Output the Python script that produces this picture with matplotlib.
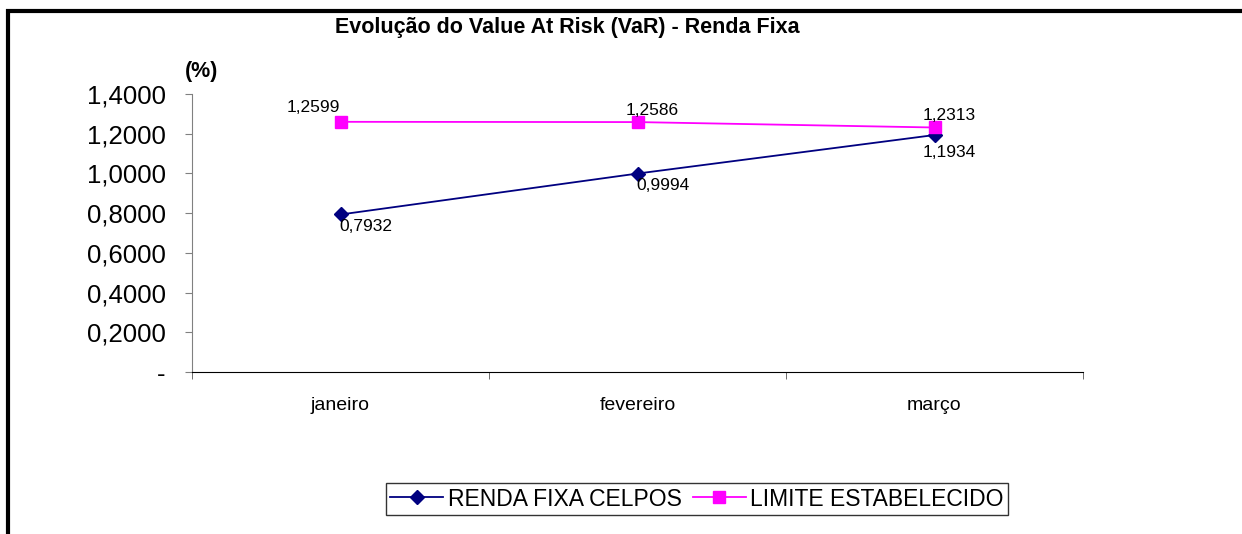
import matplotlib.pyplot as plt
from matplotlib.lines import Line2D

plt.rcParams['font.family'] = ['Liberation Sans', 'DejaVu Sans']

# data
meses = ['janeiro', 'fevereiro', 'março']
renda_fixa = [0.7932, 0.9994, 1.1934]
limite = [1.2599, 1.2586, 1.2313]
nomes = ['RENDA FIXA CELPOS', 'LIMITE ESTABELECIDO']
yticks = [0, 0.2, 0.4, 0.6, 0.8, 1.0, 1.2, 1.4]

# label offsets (pixels) for the value labels
off_rf = [(-1, -12), (-1, -12), (-12, -17)]
off_lim = [(-1, 14), (-12, 12), (-12, 12)]
ha_rf = ['left', 'left', 'left']
ha_lim = ['right', 'left', 'left']


def fmt(v):
    return '-' if v == 0 else f'{v:.4f}'.replace('.', ',')


fig = plt.figure(figsize=(12.42, 5.34), dpi=100)
ax = fig.add_axes([192 / 1242, 1 - 372 / 534, 891 / 1242, 278 / 534])

x = list(range(len(meses)))
l1, = ax.plot(x, renda_fixa, color='#000080', lw=1.3, marker='D', ms=7.5,
              label=nomes[0])
l2, = ax.plot(x, limite, color='#FF00FF', lw=1.3, marker='s', ms=8,
              label=nomes[1])

for i, v in enumerate(renda_fixa):
    ax.annotate(fmt(v), (i, v), xytext=off_rf[i], textcoords='offset pixels',
                ha=ha_rf[i], va='center', fontsize=12.5)
for i, v in enumerate(limite):
    ax.annotate(fmt(v), (i, v), xytext=off_lim[i], textcoords='offset pixels',
                ha=ha_lim[i], va='center', fontsize=12.5)

ax.set_xlim(-0.5, len(meses) - 0.5)
ax.set_ylim(0, 1.4)
ax.set_yticks(yticks)
ax.set_yticklabels([fmt(v) for v in yticks], fontsize=18.5)
ax.set_xticks(x)
ax.set_xticklabels(meses, fontsize=14)
ax.set_xticks([i - 0.5 for i in range(len(meses) + 1)], minor=True)
ax.tick_params(axis='x', which='major', length=0, pad=18)
ax.tick_params(axis='x', which='minor', length=5, direction='out', color='#555555')
ax.tick_params(axis='y', length=5, direction='out', color='#808080', pad=14)

for s in ['top', 'right']:
    ax.spines[s].set_visible(False)
ax.spines['left'].set_color('#808080')
ax.spines['bottom'].set_color('black')

fig.text(567 / 1242, 1 - 28 / 534, 'Evolução do Value At Risk (VaR) - Renda Fixa',
         ha='center', va='center', fontsize=15.5, fontweight='bold')
fig.text(202 / 1242, 1 - 72 / 534, '(%)', ha='center', va='center',
         fontsize=15.5, fontweight='bold')

leg = fig.legend(handles=[l1, l2], loc='center', ncol=2,
                 bbox_to_anchor=(697 / 1242, 1 - 499 / 534), fontsize=16.5,
                 frameon=True, fancybox=False, edgecolor='black',
                 handlelength=2.3, handletextpad=0.2, columnspacing=0.5,
                 borderpad=0.2, markerscale=1.0)
leg.get_frame().set_linewidth(1.0)

# outer border (top and left)
fig.add_artist(Line2D([6 / 1242, 1], [1 - 10.5 / 534, 1 - 10.5 / 534],
                      color='black', lw=3, transform=fig.transFigure,
                      solid_capstyle='butt'))
fig.add_artist(Line2D([8 / 1242, 8 / 1242], [1 - 9 / 534, 0],
                      color='black', lw=3, transform=fig.transFigure,
                      solid_capstyle='butt'))

fig.savefig('out.png', dpi=100)
